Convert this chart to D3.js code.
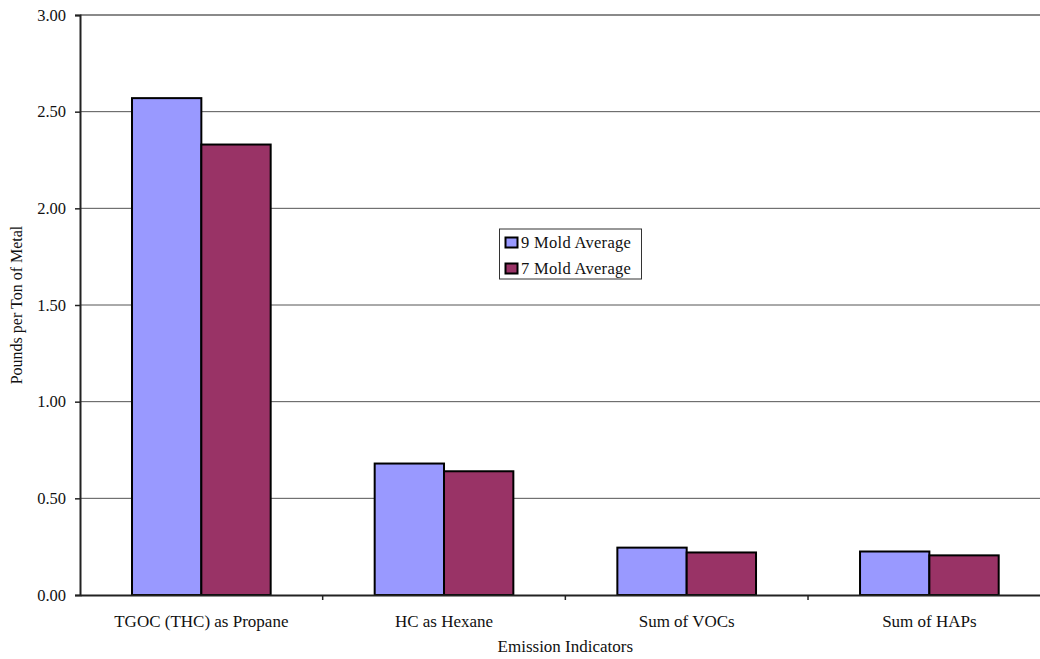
<!DOCTYPE html>
<html><head><meta charset="utf-8">
<script src="https://cdn.jsdelivr.net/npm/d3@7"></script>
<style>
body{margin:0;background:#fff;}
text{font-family:"Liberation Serif","Times New Roman",serif;fill:#111;}
</style></head>
<body><svg id="c" width="1040" height="659"></svg>
<script>
const categories = ["TGOC (THC) as Propane","HC as Hexane","Sum of VOCs","Sum of HAPs"];
const seriesNames = ["9 Mold Average","7 Mold Average"];
const nineMold = [2.57, 0.68, 0.245, 0.225];
const sevenMold = [2.33, 0.64, 0.22, 0.205];
const colors = ["#9999FF","#993366"];
const yTicks = [0,0.5,1,1.5,2,2.5,3];

const svg = d3.select("#c");
const L = 80, R = 1050.7, T = 15, B = 595;
const y = d3.scaleLinear().domain([0,3]).range([B,T]);
const x0 = d3.scaleBand().domain(categories).range([L,R]).paddingInner(0.4286).paddingOuter(0.2143);
const x1 = d3.scaleBand().domain(seriesNames).range([0,x0.bandwidth()]);
const xb = d3.scaleBand().domain(categories).range([L,R]);

// gridlines
svg.append("g").selectAll("line").data(yTicks.filter(d=>d>0)).join("line")
  .attr("x1",L).attr("x2",1040).attr("y1",d=>y(d)).attr("y2",d=>y(d))
  .attr("stroke",d=>d===3?"#8a8a8a":"#555").attr("stroke-width",d=>d===3?2:1);

// bars
const data = categories.map((c,i)=>({c, v:[nineMold[i], sevenMold[i]]}));
const g = svg.append("g").selectAll("g").data(data).join("g")
  .attr("transform",d=>`translate(${x0(d.c)},0)`);
g.selectAll("rect").data(d=>d.v.map((v,j)=>({v,s:seriesNames[j],j}))).join("rect")
  .attr("x",d=>x1(d.s)).attr("width",x1.bandwidth())
  .attr("y",d=>y(d.v)).attr("height",d=>B-y(d.v))
  .attr("fill",d=>colors[d.j]).attr("stroke","#000").attr("stroke-width",2);

// y axis
const ya = d3.axisLeft(y).tickValues(yTicks).tickFormat(d3.format(".2f")).tickSize(5).tickPadding(9);
const yg = svg.append("g").attr("transform",`translate(${L},0)`).call(ya);
yg.select(".domain").attr("stroke","#222").attr("stroke-width",2);
yg.selectAll(".tick line").attr("stroke","#222").attr("stroke-width",1.5);
yg.selectAll(".tick text").attr("font-size",16.5).attr("font-family","Liberation Serif").attr("fill","#111");

// x axis
const xa = d3.axisBottom(xb).tickSize(0).tickPadding(20);
const xg = svg.append("g").attr("transform",`translate(0,${B})`).call(xa);
xg.select(".domain").attr("stroke","#222").attr("stroke-width",2);
xg.selectAll(".tick text").attr("font-size",17).attr("font-family","Liberation Serif").attr("fill","#111");
// category boundary ticks
svg.append("g").selectAll("line").data(categories.slice(1)).join("line")
  .attr("x1",d=>xb(d)).attr("x2",d=>xb(d)).attr("y1",B).attr("y2",B+5)
  .attr("stroke","#222").attr("stroke-width",1.5);

// titles
svg.append("text").attr("x",(L+R)/2).attr("y",652).attr("text-anchor","middle")
  .attr("font-size",17).text("Emission Indicators");
svg.append("text").attr("transform",`translate(22,${(T+B)/2}) rotate(-90)`).attr("text-anchor","middle")
  .attr("font-size",16).text("Pounds per Ton of Metal");

// legend
const lg = svg.append("g").attr("transform","translate(499.5,229)");
lg.append("rect").attr("width",142).attr("height",50).attr("fill","#fff").attr("stroke","#333").attr("stroke-width",1);
seriesNames.forEach((s,i)=>{
  lg.append("rect").attr("x",6).attr("y",8.5+i*26).attr("width",12).attr("height",10)
    .attr("fill",colors[i]).attr("stroke","#000").attr("stroke-width",2);
  lg.append("text").attr("x",21.5).attr("y",18.5+i*26).attr("font-size",16.5).attr("letter-spacing",0.3).text(s);
});
</script></body></html>
